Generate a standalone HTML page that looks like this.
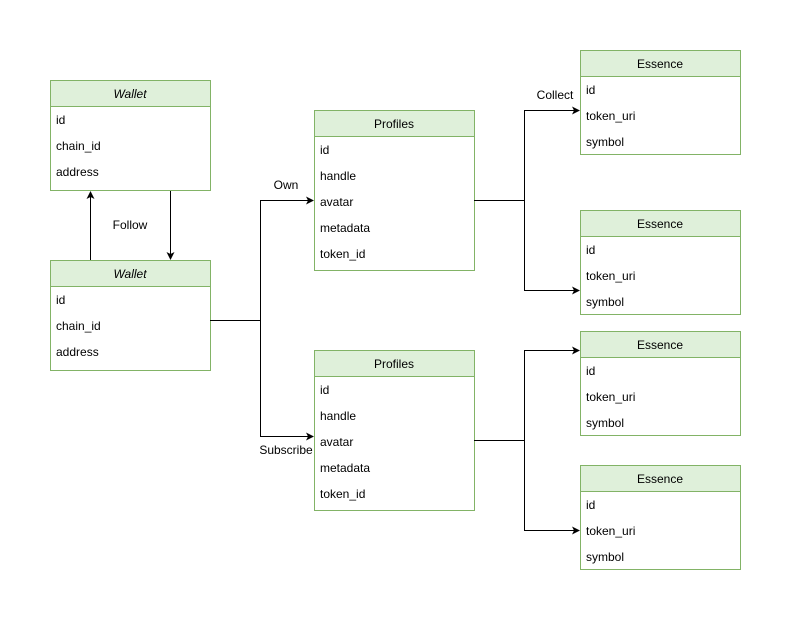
<!DOCTYPE html>
<html><head><style>body{margin:0;background:#fff}svg{display:block}text{font-family:"Liberation Sans",Arial,sans-serif;font-size:12px;fill:#000}</style></head><body>
<svg width="791" height="623" viewBox="0 0 791 623" xmlns="http://www.w3.org/2000/svg">
<defs><marker id="a" markerWidth="8" markerHeight="8" refX="7" refY="4" orient="auto" markerUnits="userSpaceOnUse"><path d="M0,0 L8,4 L0,8 L2,4 Z" fill="#000"/></marker></defs>
<g stroke="#82b366" stroke-width="1">
<rect x="50.5" y="80.5" width="160" height="110" fill="#fff"/><rect x="50.5" y="80.5" width="160" height="26" fill="#dff0da"/>
<rect x="50.5" y="260.5" width="160" height="110" fill="#fff"/><rect x="50.5" y="260.5" width="160" height="26" fill="#dff0da"/>
<rect x="314.5" y="110.5" width="160" height="160" fill="#fff"/><rect x="314.5" y="110.5" width="160" height="26" fill="#dff0da"/>
<rect x="314.5" y="350.5" width="160" height="160" fill="#fff"/><rect x="314.5" y="350.5" width="160" height="26" fill="#dff0da"/>
<rect x="580.5" y="50.5" width="160" height="104" fill="#fff"/><rect x="580.5" y="50.5" width="160" height="26" fill="#dff0da"/>
<rect x="580.5" y="210.5" width="160" height="104" fill="#fff"/><rect x="580.5" y="210.5" width="160" height="26" fill="#dff0da"/>
<rect x="580.5" y="331.5" width="160" height="104" fill="#fff"/><rect x="580.5" y="331.5" width="160" height="26" fill="#dff0da"/>
<rect x="580.5" y="465.5" width="160" height="104" fill="#fff"/><rect x="580.5" y="465.5" width="160" height="26" fill="#dff0da"/>
</g>
<g stroke="#000" stroke-width="1" fill="none">
<path d="M90.5,260 V192" marker-end="url(#a)"/>
<path d="M170.5,191 V259" marker-end="url(#a)"/>
<path d="M210,320.5 H260.5 V200.5 H313" marker-end="url(#a)"/>
<path d="M260.5,320 V436.5 H313" marker-end="url(#a)"/>
<path d="M474,200.5 H524.5 V110.5 H579" marker-end="url(#a)"/>
<path d="M524.5,200 V290.5 H579" marker-end="url(#a)"/>
<path d="M474,440.5 H524.5 V350.5 H579" marker-end="url(#a)"/>
<path d="M524.5,440 V530.5 H579" marker-end="url(#a)"/>
</g>
<g text-anchor="middle">
<text x="130" y="98" font-style="italic">Wallet</text>
<text x="130" y="278" font-style="italic">Wallet</text>
<text x="394" y="128">Profiles</text>
<text x="394" y="368">Profiles</text>
<text x="660" y="68">Essence</text>
<text x="660" y="228">Essence</text>
<text x="660" y="349">Essence</text>
<text x="660" y="483">Essence</text>
<text x="130" y="229">Follow</text>
<text x="286" y="189">Own</text>
<text x="286" y="454">Subscribe</text>
<text x="555" y="99">Collect</text>
</g>
<g>
<text x="56" y="124">id</text><text x="56" y="150">chain_id</text><text x="56" y="176">address</text>
<text x="56" y="304">id</text><text x="56" y="330">chain_id</text><text x="56" y="356">address</text>
<text x="320" y="154">id</text><text x="320" y="180">handle</text><text x="320" y="206">avatar</text><text x="320" y="232">metadata</text><text x="320" y="258">token_id</text>
<text x="320" y="394">id</text><text x="320" y="420">handle</text><text x="320" y="446">avatar</text><text x="320" y="472">metadata</text><text x="320" y="498">token_id</text>
<text x="586" y="94">id</text><text x="586" y="120">token_uri</text><text x="586" y="146">symbol</text>
<text x="586" y="254">id</text><text x="586" y="280">token_uri</text><text x="586" y="306">symbol</text>
<text x="586" y="375">id</text><text x="586" y="401">token_uri</text><text x="586" y="427">symbol</text>
<text x="586" y="509">id</text><text x="586" y="535">token_uri</text><text x="586" y="561">symbol</text>
</g>
</svg>
</body></html>
